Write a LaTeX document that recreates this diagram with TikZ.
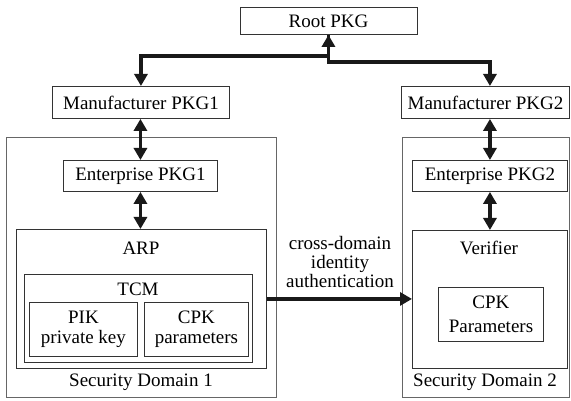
\documentclass[tikz,border=0pt]{standalone}
\usepackage{fontspec}
\setmainfont{Liberation Serif}
\usetikzlibrary{arrows.meta}
\begin{document}
\begin{tikzpicture}[x=1pt,y=-1pt,
  every node/.style={font=\fontsize{19}{20}\selectfont, inner sep=0pt},
  box/.style={draw=black!80, line width=0.9pt, anchor=north west},
  sdbox/.style={draw=black!60, line width=0.9pt, anchor=north west},
  link/.style={line width=3.5pt, black!90},
  >={Triangle[width=13pt,length=12pt]},
]
\useasboundingbox (0,0) rectangle (571,401);

% key generation hierarchy
\node[box, minimum width=177pt, minimum height=27pt] (root) at (239.5,7) {Root PKG};
\node[box, minimum width=177pt, minimum height=32pt] (m1) at (52,86) {Manufacturer PKG1};
\node[box, minimum width=168pt, minimum height=32pt] (m2) at (401,86) {Manufacturer PKG2};

% security domain 1
\node[sdbox, minimum width=270pt, minimum height=260pt] (sd1) at (6,137) {};
\node[box, minimum width=154pt, minimum height=31pt] (e1) at (63,160) {Enterprise PKG1};
\node[box, minimum width=250pt, minimum height=139pt] (arp) at (16,229) {};
\node[box, minimum width=228pt, minimum height=88pt] (tcm) at (24,274) {};
\node[box, minimum width=108pt, minimum height=54pt] (pik) at (29,302) {};
\node[box, minimum width=104pt, minimum height=54pt] (cpk1) at (144,302) {};
\node (arpl) at (141,248) {ARP};
\node (tcml) at (138,289) {TCM};
\node[align=center] (pikl) at (pik.center) {PIK\\private key};
\node[align=center] (cpk1l) at (cpk1.center) {CPK\\parameters};
\node (sd1l) at (141,382) {Security Domain 1};

% security domain 2
\node[sdbox, minimum width=167pt, minimum height=260pt] (sd2) at (402,137) {};
\node[box, minimum width=155pt, minimum height=31pt] (e2) at (412,160) {Enterprise PKG2};
\node[box, minimum width=155pt, minimum height=138pt] (ver) at (412,230) {};
\node[box, minimum width=105pt, minimum height=54pt] (cpk2) at (438,287) {};
\node (verl) at (489,248) {Verifier};
\node[align=center, font=\fontsize{19}{24}\selectfont] (cpk2l) at (cpk2.center) {CPK\\Parameters};
\node (sd2l) at (485,382) {Security Domain 2};

% links
\draw[link,<->] (root.south) -- ++(0,21) -| (m1.north);
\draw[link,->] (root.south) -- ++(0,27) -| (e2.north |- m2.north);
\draw[link,<->] (e1.north) -- (e1.north |- m1.south);
\draw[link,<->] (e1.south) -- (e1.south |- arp.north);
\draw[link,<->] (e2.north) -- (e2.north |- m2.south);
\draw[link,<->] (e2.south) -- (e2.south |- ver.north);
\draw[link,->] (arp.east) -- (arp.east -| ver.west);
\node[align=center, font=\fontsize{19}{19}\selectfont] (cross) at (340,262) {cross-domain\\identity\\authentication};
\end{tikzpicture}
\end{document}
